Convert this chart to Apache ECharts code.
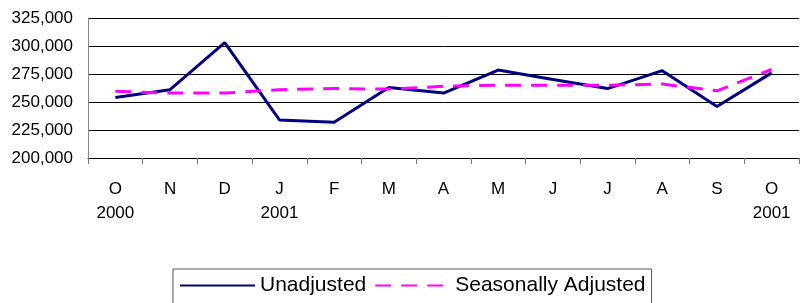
<!DOCTYPE html>
<html>
<head>
<meta charset="utf-8">
<script src="https://cdn.jsdelivr.net/npm/echarts@6/dist/echarts.min.js"></script>
<style>
html,body{margin:0;padding:0;background:#fff;}
#main{width:801px;height:303px;}
</style>
</head>
<body>
<div id="main"></div>
<script>
var months=["O","N","D","J","F","M","A","M","J","J","A","S","O"];
var years=["2000","","","2001","","","","","","","","","2001"];
var unadjusted=[254000,261000,303000,234000,232000,263000,258000,278500,270000,262000,278000,246000,276000];
var adjusted=[259500,258000,258000,261000,262000,261500,264000,265000,265000,265000,266000,260000,279000];

var cats=months.map(function(m,i){
	return years[i] ? m+"\n"+years[i] : m;
});

var myChart=echarts.init(document.getElementById('main'));
var option={
	animation:false,
	backgroundColor:'#fff',
	textStyle:{fontFamily:'Liberation Sans, Arial, sans-serif'},
	grid:{left:88,right:2,top:18,bottom:145,containLabel:false},
	legend:{
		left:173,
		top:269,
		padding:[6,6,10,6],
		itemWidth:75,
		itemHeight:10,
		itemGap:8,
		borderColor:'#555',
		borderWidth:1,
		itemStyle:{opacity:0},
		textStyle:{fontSize:21,color:'#000'},
		data:['Unadjusted','Seasonally Adjusted']
	},
	xAxis:{
		type:'category',
		boundaryGap:true,
		data:cats,
		axisLine:{lineStyle:{color:'#000',width:1}},
		axisTick:{show:true,length:6,lineStyle:{color:'#777'}},
		axisLabel:{fontSize:17,color:'#000',lineHeight:24,margin:19,interval:0}
	},
	yAxis:{
		type:'value',
		min:200000,
		max:325000,
		interval:25000,
		axisLine:{show:true,lineStyle:{color:'#888'}},
		axisTick:{show:false},
		splitLine:{lineStyle:{color:'#000',width:1}},
		axisLabel:{
			fontSize:17,color:'#000',margin:15,
			formatter:function(v){return v.toLocaleString('en-US');}
		}
	},
	series:[{
		name:'Unadjusted',
		type:'line',
		symbol:'none',
		data:unadjusted,
		lineStyle:{color:'#000080',width:3},
		itemStyle:{color:'#000080'}
	},{
		name:'Seasonally Adjusted',
		type:'line',
		symbol:'none',
		data:adjusted,
		lineStyle:{color:'#ff00ff',width:3,type:[16,10]},
		itemStyle:{color:'#ff00ff'}
	}]
};
myChart.setOption(option);
</script>
</body>
</html>
